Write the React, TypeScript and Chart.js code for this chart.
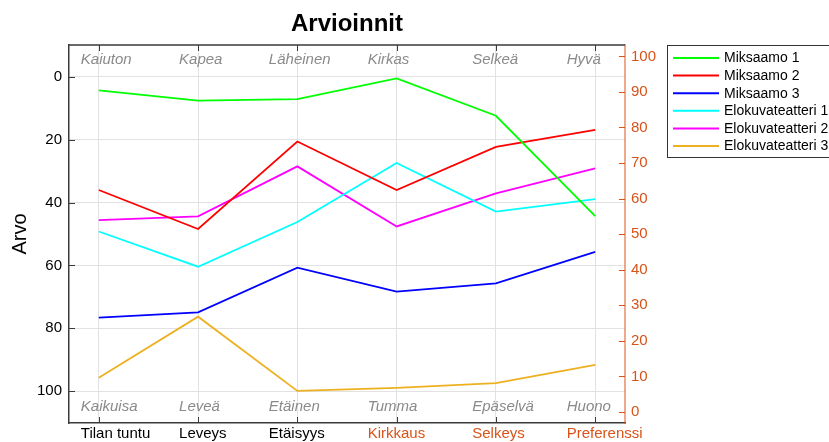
import React, { useEffect, useRef } from "react";
import { Chart, registerables } from "chart.js";

Chart.register(...registerables);

const categories = ["Tilan tuntu", "Leveys", "Etäisyys", "Kirkkaus", "Selkeys", "Preferenssi"];
const topLabels = ["Kaiuton", "Kapea", "Läheinen", "Kirkas", "Selkeä", "Hyvä"];
const bottomLabels = ["Kaikuisa", "Leveä", "Etäinen", "Tumma", "Epäselvä", "Huono"];
const seriesNames = ["Miksaamo 1", "Miksaamo 2", "Miksaamo 3", "Elokuvateatteri 1", "Elokuvateatteri 2", "Elokuvateatteri 3"];

const miksaamo1 = [4.3, 7.6, 7.1, 0.5, 12.4, 44.3];
const miksaamo2 = [36.0, 48.4, 20.6, 36.0, 22.3, 16.9];
const miksaamo3 = [76.6, 74.9, 60.7, 68.3, 65.7, 55.7];
const elokuva1 = [49.2, 60.4, 46.2, 27.4, 42.9, 38.9];
const elokuva2 = [45.6, 44.4, 28.5, 47.6, 37.1, 29.1];
const elokuva3 = [95.7, 76.3, 99.9, 98.9, 97.4, 91.6];

const leftTicks = [0, 20, 40, 60, 80, 100];
const rightTicks = [0, 10, 20, 30, 40, 50, 60, 70, 80, 90, 100];

// styling: left edge of each column's texts relative to its tick (px)
const columnTextShift = [-18, -19, -28.5, -29, -23.7, -28.5];

const seriesColors = ["#00ff00", "#ff0000", "#0000ff", "#00ffff", "#ff00ff", "#EDB120"];
const ORANGE = "#D95319";
const AXIS_DARK = "#3a3a3a";
const FONT = "'Liberation Sans', Arial, Helvetica, sans-serif";

const decorPlugin = {
  id: "decor",
  afterDraw(chart: any) {
    const { ctx, chartArea: a, scales } = chart;
    const xs = scales.x;
    const ys = scales.y;
    const y1 = scales.y1;
    ctx.save();
    // top frame line
    ctx.strokeStyle = AXIS_DARK;
    ctx.lineWidth = 1.5;
    ctx.beginPath();
    ctx.moveTo(a.left, a.top);
    ctx.lineTo(a.right, a.top);
    ctx.stroke();
    // inward ticks
    ctx.lineWidth = 1;
    ctx.beginPath();
    categories.forEach((_, i) => {
      const px = Math.round(xs.getPixelForValue(i)) + 0.5;
      ctx.moveTo(px, a.bottom);
      ctx.lineTo(px, a.bottom - 6);
      ctx.moveTo(px, a.top);
      ctx.lineTo(px, a.top + 6);
    });
    leftTicks.forEach((v) => {
      const py = Math.round(ys.getPixelForValue(v)) + 0.5;
      ctx.moveTo(a.left, py);
      ctx.lineTo(a.left + 6, py);
    });
    ctx.stroke();
    ctx.strokeStyle = ORANGE;
    ctx.beginPath();
    rightTicks.forEach((v) => {
      const py = Math.round(y1.getPixelForValue(v)) + 0.5;
      ctx.moveTo(a.right, py);
      ctx.lineTo(a.right - 6, py);
    });
    ctx.stroke();
    // inner italic labels
    ctx.fillStyle = "#8a8a8a";
    ctx.font = "italic 15px " + FONT;
    ctx.textAlign = "left";
    ctx.textBaseline = "alphabetic";
    topLabels.forEach((t, i) => {
      ctx.fillText(t, xs.getPixelForValue(i) + columnTextShift[i], a.top + 19.3);
    });
    bottomLabels.forEach((t, i) => {
      ctx.fillText(t, xs.getPixelForValue(i) + columnTextShift[i], a.bottom - 12);
    });
    // category labels (x axis)
    ctx.font = "15px " + FONT;
    categories.forEach((t, i) => {
      ctx.fillStyle = i >= 3 ? ORANGE : "#000";
      ctx.fillText(t, xs.getPixelForValue(i) + columnTextShift[i], a.bottom + 15.2);
    });
    // legend
    const lx = a.right + 42;
    const ly = a.top;
    ctx.strokeStyle = "#333333";
    ctx.lineWidth = 1;
    ctx.strokeRect(lx + 0.5, ly + 0.5, 200, 112);
    ctx.font = "14px " + FONT;
    ctx.textAlign = "left";
    ctx.textBaseline = "middle";
    ctx.fillStyle = "#000";
    seriesNames.forEach((name, i) => {
      const ry = ly + 13 + i * 17.6;
      ctx.strokeStyle = seriesColors[i];
      ctx.lineWidth = 2;
      ctx.beginPath();
      ctx.moveTo(lx + 6, ry);
      ctx.lineTo(lx + 52, ry);
      ctx.stroke();
      ctx.fillText(name, lx + 57, ry + 0.5);
    });
    ctx.restore();
  },
};

export default function App() {
  const ref = useRef<HTMLCanvasElement | null>(null);
  useEffect(() => {
    if (!ref.current) return;
    const allSeries = [miksaamo1, miksaamo2, miksaamo3, elokuva1, elokuva2, elokuva3];
    const chart = new Chart(ref.current, {
      type: "line",
      data: {
        datasets: allSeries.map((vals, i) => ({
          label: seriesNames[i],
          data: vals.map((v, j) => ({ x: j, y: v })),
          borderColor: seriesColors[i],
          backgroundColor: seriesColors[i],
          borderWidth: 1.8,
          pointRadius: 0,
          tension: 0,
          yAxisID: "y",
        })),
      },
      options: {
        responsive: false,
        animation: false,
        devicePixelRatio: 1,
        font: { family: FONT },
        layout: { padding: { left: 0, right: 164, top: 0, bottom: 0 } },
        plugins: {
          legend: { display: false },
          tooltip: { enabled: false },
          title: {
            display: true,
            text: "Arvioinnit",
            fullSize: false,
            color: "#000",
            font: { family: FONT, size: 24, weight: "bold" },
            padding: { top: 10, bottom: 6.2 },
          },
        },
        scales: {
          x: {
            type: "linear",
            min: -0.3,
            max: 5.3,
            afterBuildTicks: (s: any) => {
              s.ticks = categories.map((_, i) => ({ value: i }));
            },
            afterFit: (s: any) => {
              s.height = 19;
            },
            ticks: {
              display: false,
              autoSkip: false,
              maxRotation: 0,
              callback: (v: any) => categories[v] ?? "",
            },
            grid: { color: "#e2e2e2", drawTicks: false },
            border: { display: true, color: AXIS_DARK, width: 1.5 },
          },
          y: {
            type: "linear",
            position: "left",
            reverse: true,
            min: -10.1,
            max: 110.1,
            afterBuildTicks: (s: any) => {
              s.ticks = leftTicks.map((v) => ({ value: v }));
            },
            afterFit: (s: any) => {
              s.width = 69;
            },
            ticks: {
              padding: 7,
              font: { family: FONT, size: 15 },
              color: "#000",
              callback: (v: any) => String(v),
            },
            title: {
              display: true,
              text: "Arvo",
              color: "#000",
              font: { family: FONT, size: 20 },
              padding: { top: 8, bottom: 0 },
            },
            grid: { color: "#e2e2e2", drawTicks: false },
            border: { display: true, color: AXIS_DARK, width: 1.5 },
          },
          y1: {
            type: "linear",
            position: "right",
            min: -3.1,
            max: 103.2,
            afterBuildTicks: (s: any) => {
              s.ticks = rightTicks.map((v) => ({ value: v }));
            },
            afterFit: (s: any) => {
              s.width = 40;
            },
            ticks: {
              padding: 6,
              font: { family: FONT, size: 15 },
              color: ORANGE,
              callback: (v: any) => String(v),
            },
            grid: { display: false, drawTicks: false },
            border: { display: true, color: "rgba(217,83,25,0.5)", width: 2 },
          },
        },
      },
      plugins: [decorPlugin],
    } as any);
    return () => chart.destroy();
  }, []);
  return (
    <div style={{ position: "fixed", left: 0, top: 0, width: 829, height: 442, background: "#fff" }}>
      <canvas ref={ref} width={829} height={442} />
    </div>
  );
}
